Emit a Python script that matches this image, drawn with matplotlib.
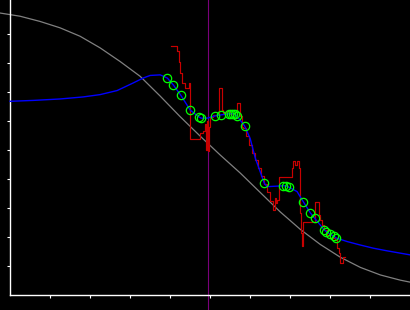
import numpy as np
import matplotlib
matplotlib.use("Agg")
import matplotlib.pyplot as plt

# grey reference curve
grey_x = [-2.5, 2.5, 7.5, 12.5, 17.5, 22.5, 27.5, 32.5, 37.5, 42.5, 47.5, 52.5,
          57.5, 62.5, 67.5, 72.5, 77.5, 82.5, 87.5, 92.5, 97.5, 100]
grey_y = [97.1, 96.0, 94.2, 92.0, 89.1, 85.1, 80.4, 75.3, 68.5, 61.4, 54.7, 48.2,
          42.0, 35.3, 28.6, 22.6, 17.4, 13.0, 9.5, 6.9, 5.1, 4.4]

# blue fitted curve
blue_x = [0, 5.75, 12.5, 18.25, 22.5, 26.75, 30.75, 33.25, 35, 37.5, 39.3, 40.8,
          42.6, 45.0, 47.1, 47.7, 49.25, 51.3, 52.6, 54.7, 55.7, 56.6, 58.6, 60,
          61.25, 62.5, 63.5, 64.2, 68.2, 68.9, 69.7, 71.7, 73.3, 75.0, 76.1, 78.5,
          79.0, 80.0, 80.8, 81.5, 84.2, 87.5, 90.8, 94.2, 97.5, 100]
blue_y = [66.7, 67.0, 67.5, 68.2, 69.0, 70.4, 73.0, 74.7, 75.6, 75.8, 74.7, 72.3,
          68.9, 63.7, 61.4, 60.9, 60.9, 61.7, 62.0, 62.4, 62.4, 61.8, 58.2, 53.8,
          47.2, 42.4, 38.5, 37.3, 37.6, 37.6, 37.1, 35.6, 32.0, 28.3, 26.4, 22.4,
          21.8, 20.9, 20.3, 19.6, 18.4, 17.2, 16.1, 15.2, 14.4, 13.8]

# observations (circles)
obs_x = [39.3, 40.8, 42.6, 45.0, 47.1, 47.7, 51.3, 52.6, 54.7, 55.2, 55.7, 56.3,
         56.6, 58.6, 63.5, 68.2, 68.9, 69.7, 73.3, 75.0, 76.1, 78.5, 79.0, 80.0,
         80.8, 81.5]
obs_y = [74.7, 72.3, 68.9, 63.7, 61.4, 60.9, 61.7, 62.0, 62.4, 62.4, 62.4, 62.2,
         61.8, 58.2, 38.5, 37.6, 37.6, 37.1, 32.0, 28.3, 26.4, 22.4, 21.8, 20.9,
         20.3, 19.6]

# red raw signal (step)
red_x = [40.25, 41.75, 42.2, 42.5, 42.9, 43.6, 44.8, 45.0, 47.5, 48.25, 48.75, 49.0,
         49.25, 49.5, 49.75, 50.0, 50.75, 52.1, 52.9, 53.25, 54.0, 55.0, 55.75, 56.7,
         57.5, 57.9, 58.25, 59.0, 59.75, 60.5, 61.25, 62.0, 62.75, 63.5, 64.25, 65.0,
         65.75, 66.1, 66.5, 66.75, 67.1, 70.4, 70.8, 71.25, 71.7, 72.1, 72.5, 72.7,
         72.9, 73.3, 76.25, 77.1, 77.5, 77.9, 78.3, 79.2, 80.0, 81.25, 81.7, 82.1,
         82.5, 83.2, 83.75]
red_y = [85.9, 83.9, 80.1, 76.4, 73.0, 71.3, 73.0, 53.8, 55.8, 56.6, 59.0, 50.0,
         60.0, 49.7, 57.9, 61.4, 61.9, 71.3, 63.8, 62.8, 63.4, 62.4, 61.0, 66.1,
         61.5, 58.0, 57.6, 54.8, 51.7, 49.0, 46.6, 43.8, 41.0, 38.3, 35.5, 32.4,
         29.3, 33.4, 31.7, 32.8, 40.8, 43.7, 46.0, 44.8, 46.0, 43.7, 28.3, 21.4,
         16.7, 25.3, 32.0, 27.6, 25.9, 24.1, 22.4, 20.7, 19.7, 19.0, 16.2, 14.4,
         10.9, 13.1, 13.1]

marker_x = 49.4

fig = plt.figure(figsize=(4.104, 3.104), dpi=100, facecolor='black')
ax = fig.add_axes([0, 0, 1, 1], facecolor='black')

ax.axvline(marker_x, color='#7a007a', lw=0.8, zorder=1)
ax.plot(grey_x, grey_y, color='#808080', lw=0.9, zorder=2, clip_on=False)
ax.plot(red_x, red_y, color='#c80000', lw=0.85, drawstyle='steps-post', zorder=3)
ax.plot(blue_x, blue_y, color='#0000ff', lw=1.0, zorder=4)
ax.plot(obs_x, obs_y, 'o', mfc='none', mec='#00ff00', ms=6.0, mew=0.9, zorder=5)

ax.set_xlim(-2.5, 100)
ax.set_ylim(-5.17, 101.72)

for s in ['top', 'right']:
    ax.spines[s].set_visible(False)
ax.spines['left'].set_position(('data', 0))
ax.spines['bottom'].set_position(('data', 0))
ax.spines['left'].set_bounds(0, 101.72)
ax.spines['bottom'].set_bounds(0, 100)
for s in ['left', 'bottom']:
    ax.spines[s].set_color('white')
    ax.spines[s].set_linewidth(1.0)

ax.set_xticks(range(10, 100, 10))
ax.set_yticks(range(10, 100, 10))
ax.tick_params(colors='white', direction='out', length=2.3, width=0.8,
               labelbottom=False, labelleft=False)

fig.savefig('out.png', dpi=100, facecolor='black')
